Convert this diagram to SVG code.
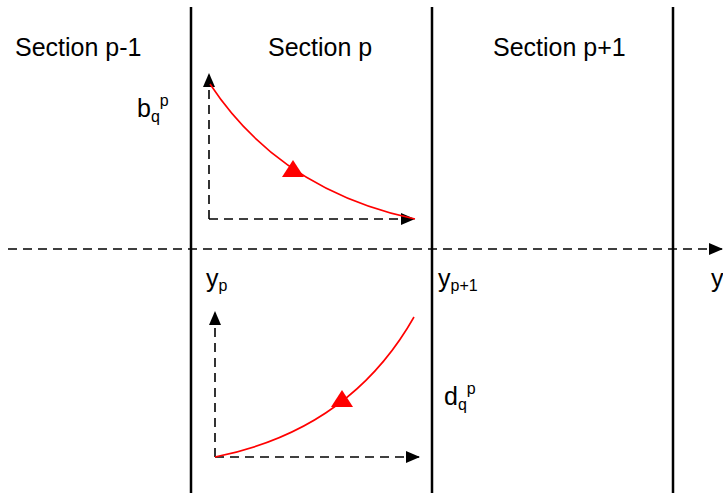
<svg xmlns="http://www.w3.org/2000/svg" width="723" height="493" viewBox="0 0 723 493">
<style>
.wall{stroke:#000;stroke-width:2.5;fill:none}
.dash{stroke:#000;stroke-width:1.6;stroke-dasharray:9,6;fill:none}
.curve{stroke:#f00;stroke-width:1.6;fill:none}
.t{font-family:"Liberation Sans",Arial,sans-serif;fill:#000}
</style>
<defs>
<marker id="ah" viewBox="0 0 14 12" refX="14" refY="6" markerWidth="14" markerHeight="12" markerUnits="userSpaceOnUse" orient="auto">
<path d="M0,0 L14,6 L0,12 Z" fill="#000"/>
</marker>
</defs>
<rect width="723" height="493" fill="#fff"/>
<g id="walls">
<line class="wall" x1="191" y1="7" x2="191" y2="493"/>
<line class="wall" x1="432" y1="7" x2="432" y2="493"/>
<line class="wall" x1="673" y1="7" x2="673" y2="493"/>
</g>
<g id="connectors">
<line class="dash" x1="8" y1="249" x2="723" y2="249" marker-end="url(#ah)"/>
<line class="dash" x1="209" y1="219" x2="209" y2="73" marker-end="url(#ah)"/>
<line class="dash" x1="209" y1="219" x2="415" y2="219" marker-end="url(#ah)"/>
<line class="dash" x1="215" y1="457" x2="215" y2="311" marker-end="url(#ah)"/>
<line class="dash" x1="215" y1="457" x2="420" y2="457" marker-end="url(#ah)"/>
<path class="curve" d="M210,84 Q280,190 415,219"/>
<polygon points="293,160 304,177 282,177" fill="#f00"/>
<path class="curve" d="M414,317 Q350,430 215,457"/>
<polygon points="342,390 353,407 331,407" fill="#f00"/>
</g>
<g id="labels">
<text class="t" x="15" y="56" font-size="25">Section p-1</text>
<text class="t" x="268" y="56" font-size="25">Section p</text>
<text class="t" x="493" y="56" font-size="25">Section p+1</text>
<text class="t" x="137" y="117" font-size="25">b<tspan font-size="16" dy="5">q</tspan><tspan font-size="16" dy="-16">p</tspan></text>
<text class="t" x="206" y="287" font-size="25">y<tspan font-size="16" dy="4">p</tspan></text>
<text class="t" x="438" y="287" font-size="25">y<tspan font-size="16" dy="4">p+1</tspan></text>
<text class="t" x="711" y="287" font-size="25">y</text>
<text class="t" x="444" y="405" font-size="25">d<tspan font-size="16" dy="5">q</tspan><tspan font-size="16" dy="-16">p</tspan></text>
</g>
</svg>
